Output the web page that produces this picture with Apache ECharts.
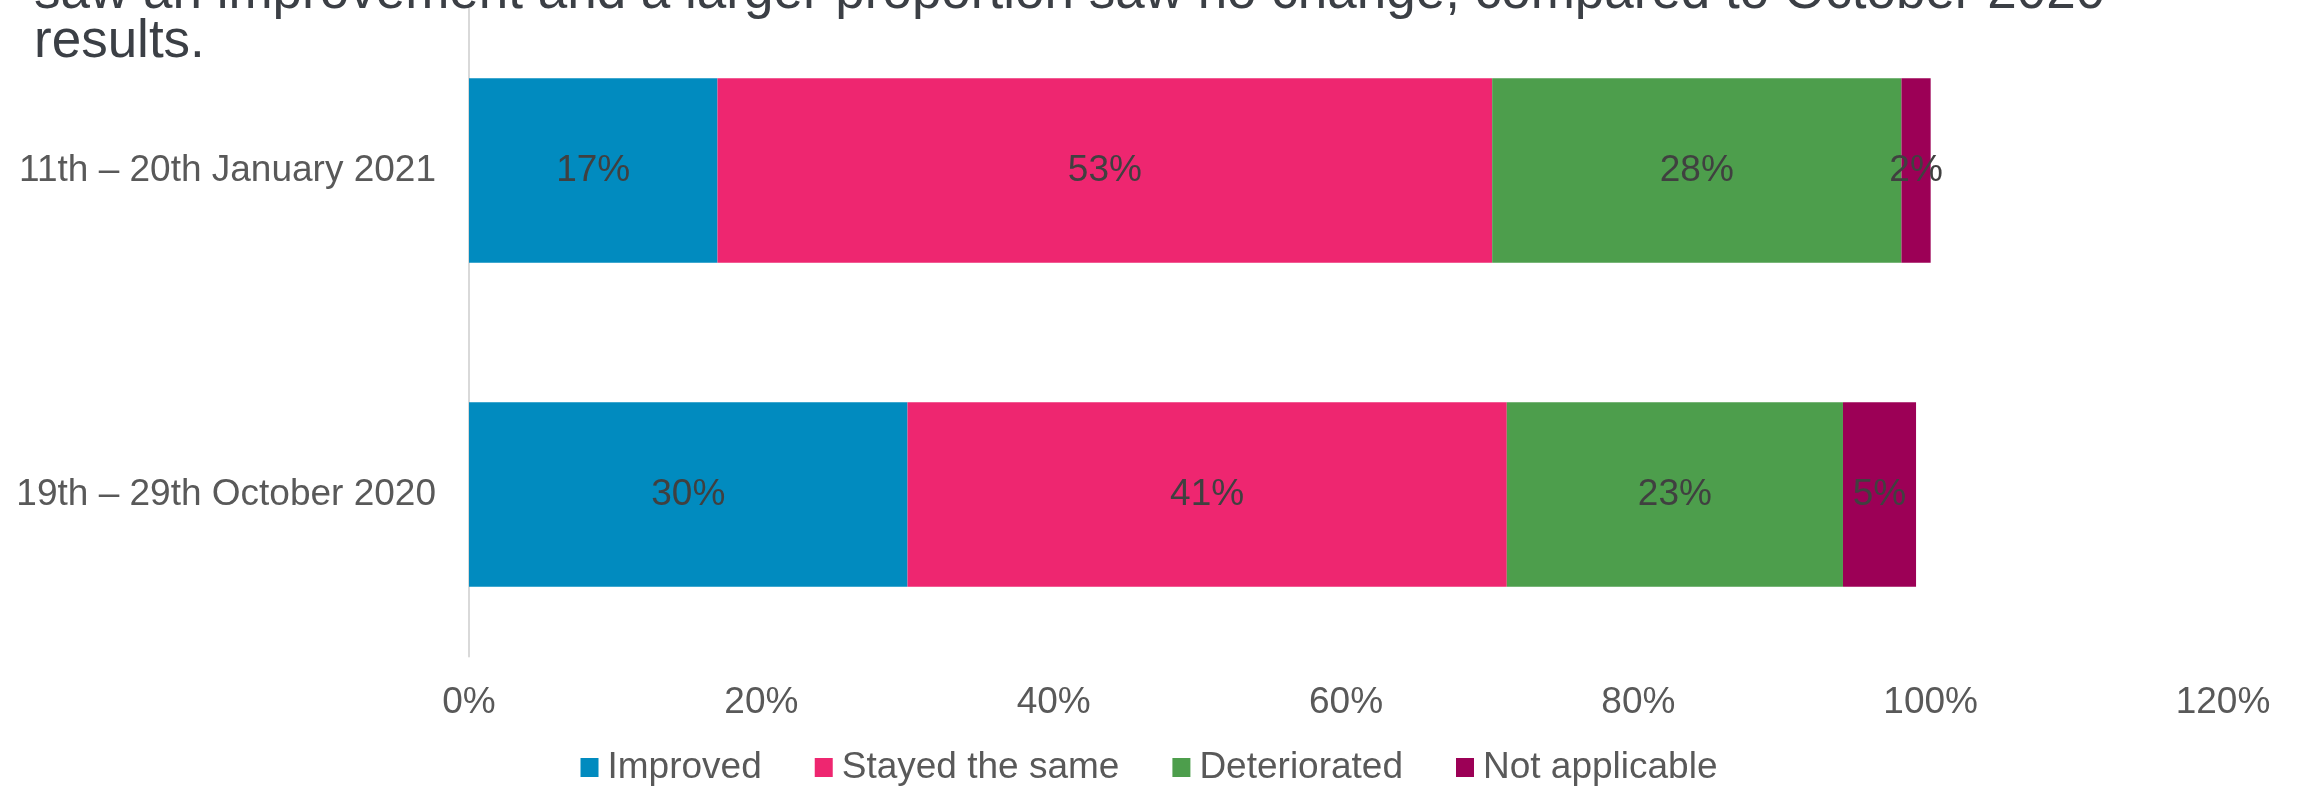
<!DOCTYPE html>
<html>
<head>
<meta charset="utf-8">
<title>Chart</title>
<script src="https://cdn.jsdelivr.net/npm/echarts@6/dist/echarts.min.js"></script>
<style>
  html, body { margin: 0; padding: 0; background: #ffffff; }
  #main { width: 2298px; height: 786px; }
</style>
</head>
<body>
<div id="main"></div>
<script>
let periods = ['11th \u2013 20th January 2021', '19th \u2013 29th October 2020']
let seriesNames = ['Improved', 'Stayed the same', 'Deteriorated', 'Not applicable']
let improved = [17, 30]
let stayedSame = [53, 41]
let deteriorated = [28, 23]
let notApplicable = [2, 5]
let colors = ['#018bbf', '#ee2670', '#4d9e4c', '#9c0056']
let titleLines = [
  'saw an improvement and a larger proportion saw no change, compared to October 2020',
  'results.'
]

let font = 'Arial, "Liberation Sans", sans-serif'
let valuesList = [improved, stayedSame, deteriorated, notApplicable]

let chart = echarts.init(document.getElementById('main'))
let option = {
  animation: false,
  color: colors,
  textStyle: {
    fontFamily: font
  },
  title: {
    text: titleLines.join('\n'),
    left: 34,
    top: -31,
    padding: 0,
    textStyle: {
      fontFamily: font,
      fontSize: 53,
      fontWeight: 'normal',
      lineHeight: 49,
      color: '#3b3f45'
    }
  },
  legend: {
    data: seriesNames,
    left: 'center',
    top: 744,
    icon: 'rect',
    itemWidth: 18,
    itemHeight: 19,
    itemGap: 53,
    textStyle: {
      fontFamily: font,
      fontSize: 37,
      color: '#595959',
      padding: [0, 0, 0, 4]
    }
  },
  grid: {
    left: 469,
    right: 75,
    top: 8.5,
    bottom: 129.5
  },
  xAxis: {
    type: 'value',
    min: 0,
    max: 120,
    interval: 20,
    splitLine: { show: false },
    axisLine: { show: false },
    axisTick: { show: false },
    axisLabel: {
      formatter: '{value}%',
      fontFamily: font,
      fontSize: 37,
      color: '#595959',
      margin: 28
    }
  },
  yAxis: {
    type: 'category',
    inverse: true,
    data: periods,
    axisTick: { show: false },
    axisLine: {
      lineStyle: {
        color: '#d9d9d9',
        width: 2
      }
    },
    axisLabel: {
      fontFamily: font,
      fontSize: 37,
      color: '#595959',
      margin: 33,
      padding: [6, 0, 0, 0]
    }
  },
  series: seriesNames.map(function (name, i) {
    return {
      name: name,
      type: 'bar',
      stack: 'total',
      barWidth: '57%',
      itemStyle: { color: colors[i] },
      label: {
        show: true,
        position: 'inside',
        formatter: '{c}%',
        fontFamily: font,
        fontSize: 37,
        color: '#404040',
        padding: [6, 0, 0, 0]
      },
      data: valuesList[i]
    }
  })
}
chart.setOption(option)
</script>
</body>
</html>
